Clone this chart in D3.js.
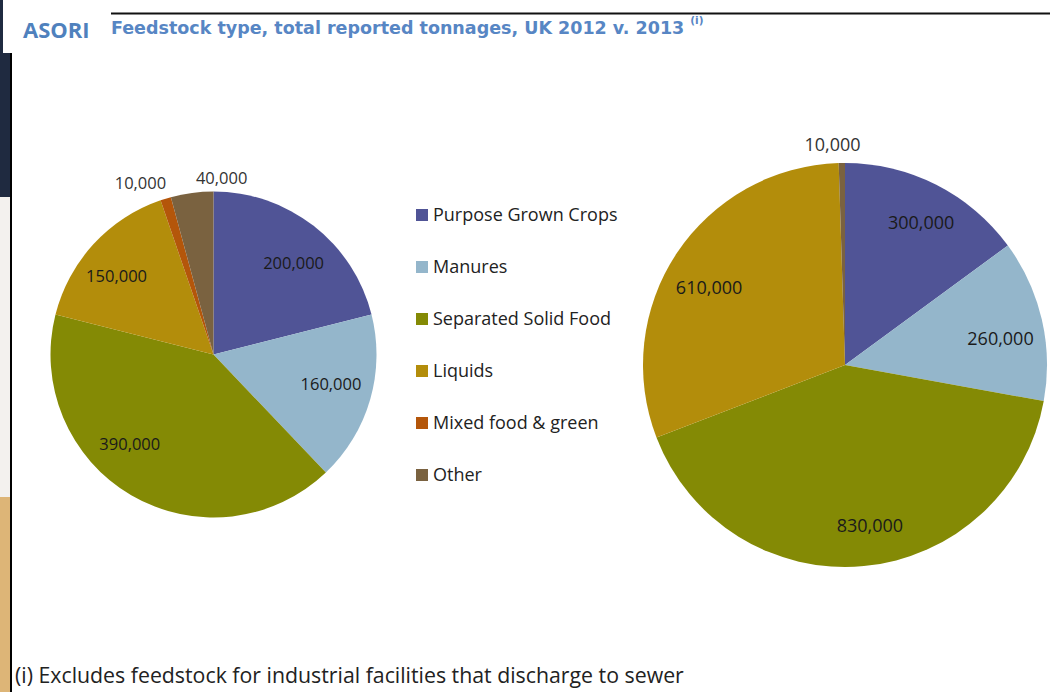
<!DOCTYPE html>
<html>
<head>
<meta charset="utf-8">
<script src="https://cdn.jsdelivr.net/npm/d3@7"></script>
<style>
  html, body { margin: 0; padding: 0; background: #ffffff; }
  svg { display: block; }
</style>
</head>
<body>
<svg id="chart" width="1050" height="692"></svg>
<script>
// Feedstock categories and reported tonnages per year
const categories = ["Purpose Grown Crops", "Manures", "Separated Solid Food", "Liquids", "Mixed food & green", "Other"];
const tonnes2012 = [200000, 160000, 390000, 150000, 10000, 40000];
const tonnes2013 = [300000, 260000, 830000, 610000, 0, 10000];
const colours = ["#505496", "#94b6cb", "#848a05", "#b38d0b", "#b4560a", "#7a6240"];

const svg = d3.select("#chart");
const W = 1050, H = 692;

// Page furniture down the left margin
svg.append("rect").attr("x", 0).attr("y", 0).attr("width", 3).attr("height", 53).attr("fill", "#1f2a40");
svg.append("rect").attr("x", 0).attr("y", 53).attr("width", 10).attr("height", 144).attr("fill", "#1f2a40");
svg.append("rect").attr("x", 0).attr("y", 197).attr("width", 10).attr("height", 300).attr("fill", "#f3f1ee");
svg.append("rect").attr("x", 0).attr("y", 497).attr("width", 10).attr("height", 195).attr("fill", "#ddb577");
svg.append("rect").attr("x", 10).attr("y", 53).attr("width", 2).attr("height", H - 53).attr("fill", "#000");

// Header rule and title
svg.append("rect").attr("x", 111).attr("y", 12.5).attr("width", W - 111).attr("height", 2).attr("fill", "#111");
svg.append("text").attr("x", 23).attr("y", 37.5)
  .attr("font-family", "'Open Sans', sans-serif").attr("font-weight", 700).attr("font-size", 22)
  .attr("fill", "#4f81bd").text("ASORI");
const title = svg.append("text").attr("x", 111).attr("y", 34)
  .attr("font-family", "'DejaVu Sans', Verdana, sans-serif").attr("font-weight", 700).attr("font-size", 17.5)
  .attr("fill", "#5786c4");
title.append("tspan").text("Feedstock type, total reported tonnages, UK 2012 v. 2013");
title.append("tspan").attr("dx", 6).attr("dy", -10).attr("font-size", 10.5).text("(i)");

// Footnote
svg.append("text").attr("x", 15).attr("y", 683)
  .attr("font-family", "'Open Sans', sans-serif").attr("font-size", 21.3)
  .attr("fill", "#222").text("(i) Excludes feedstock for industrial facilities that discharge to sewer");

const fmt = d3.format(",");
const pie = d3.pie().sort(null).value(d => d.value);

// One pie per year; small slices carry their label outside the rim
function drawPie(values, cx, cy, r, labelK, fontSize, nudges) {
  const data = categories.map((c, i) => ({ cat: c, value: values[i], i }));
  const arcs = pie(data);
  const arc = d3.arc().innerRadius(0).outerRadius(r);
  const g = svg.append("g").attr("transform", `translate(${cx},${cy})`);
  g.selectAll("path").data(arcs.filter(a => a.data.value > 0)).join("path")
    .attr("d", arc).attr("fill", d => colours[d.data.i]);

  const inner = d3.arc().innerRadius(r * labelK).outerRadius(r * labelK);
  const outer = d3.arc().innerRadius(r + 18).outerRadius(r + 18);
  const total = d3.sum(values);
  const isSmall = d => d.data.value / total < 0.05;
  g.selectAll("text").data(arcs.filter(a => a.data.value > 0)).join("text")
    .attr("transform", d => {
      const [x, y] = (isSmall(d) ? outer : inner).centroid(d);
      const [dx, dy] = nudges[d.data.i];
      return `translate(${x + dx},${y + dy})`;
    })
    .attr("text-anchor", "middle").attr("dy", "0.35em")
    .attr("font-family", "'Open Sans', sans-serif").attr("font-size", fontSize)
    .attr("fill", d => isSmall(d) ? "#333" : "#1a1a1a")
    .text(d => fmt(d.data.value));
}

drawPie(tonnes2012, 213.5, 354.5, 163, 0.75, 16.5,
  [[5, 5], [0, -4], [-22, -16], [-7, 5], [-20, 2], [32, 3]]);
drawPie(tonnes2013, 845, 365, 202, 0.79, 18,
  [[4, 0], [0, 10], [10, 2], [-3, 11], [0, 0], [-9, 0]]);

// Legend between the two pies
const legend = svg.append("g").attr("transform", "translate(416,215)");
const item = legend.selectAll("g").data(categories).join("g")
  .attr("transform", (d, i) => `translate(0,${i * 52})`);
item.append("rect").attr("x", 0).attr("y", -6).attr("width", 12).attr("height", 12)
  .attr("fill", (d, i) => colours[i]);
item.append("text").attr("x", 17).attr("dy", "0.35em")
  .attr("font-family", "'Open Sans', sans-serif").attr("font-size", 18)
  .attr("fill", "#222").text(d => d);
</script>
</body>
</html>
